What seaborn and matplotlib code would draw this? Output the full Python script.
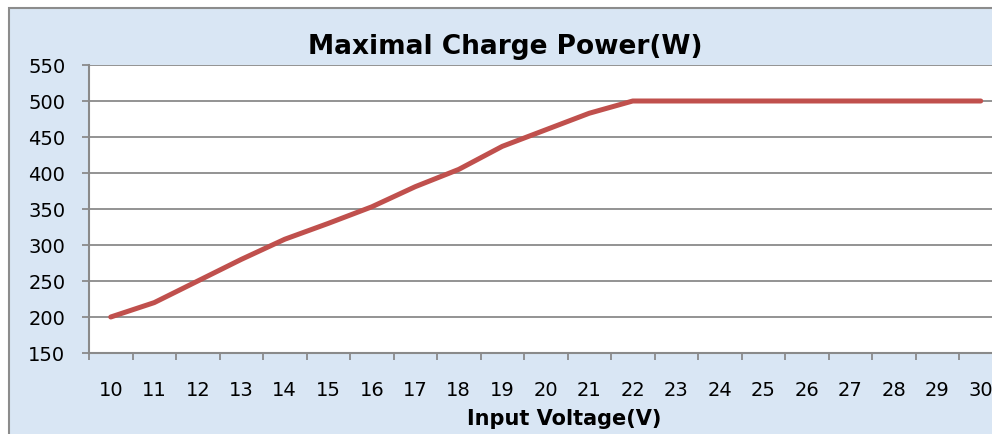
import matplotlib
matplotlib.use("Agg")
import matplotlib.pyplot as plt
import seaborn as sns
import pandas as pd
from matplotlib.patches import Rectangle
from matplotlib.ticker import FixedLocator

voltage = [10, 11, 12, 13, 14, 15, 16, 17, 18, 19, 20, 21, 22, 23, 24, 25, 26, 27, 28, 29, 30]
power = [200, 220, 250, 280, 308, 330, 353, 381, 405, 437, 460, 483, 500, 500, 500, 500, 500, 500, 500, 500, 500]
y_ticks = [150, 200, 250, 300, 350, 400, 450, 500, 550]

df = pd.DataFrame({"Input Voltage(V)": voltage, "Power": power})

sns.set_theme(style="white")
plt.rcParams["font.family"] = ["DejaVu Sans"]
plt.rcParams["text.color"] = "black"
plt.rcParams["xtick.labelcolor"] = "black"
plt.rcParams["ytick.labelcolor"] = "black"
plt.rcParams["axes.labelcolor"] = "black"

W, H = 992, 435
fig = plt.figure(figsize=(W / 100, H / 100), dpi=100, facecolor="white")

# outer chart area (light blue, gray border)
bg = Rectangle((9 / W, -0.05), 1.2, (H - 9) / H + 0.05, transform=fig.transFigure,
               facecolor="#d9e6f4", edgecolor="#8c8c8c", linewidth=1.5, zorder=-10)
fig.patches.append(bg)

left, right, top, bottom = 89, 1002.5, 66, 354
ax = fig.add_axes([left / W, (H - bottom) / H, (right - left) / W, (bottom - top) / H])
ax.set_facecolor("white")

sns.lineplot(data=df, x="Input Voltage(V)", y="Power", ax=ax, color="#c0504d", linewidth=3.6,
             solid_capstyle="round", zorder=5)

ax.set_xlim(9.5, 30.5)
ax.set_ylim(150, 550)
ax.set_yticks(y_ticks)
ax.set_xticks(voltage)
ax.set_xticklabels([str(v) for v in voltage])
ax.xaxis.set_minor_locator(FixedLocator([v - 0.5 for v in voltage] + [voltage[-1] + 0.5]))

ax.grid(axis="y", color="#8a8a8a", linewidth=1.3)
ax.set_axisbelow(True)
for s in ["top", "right"]:
    ax.spines[s].set_visible(False)
for s in ["left", "bottom"]:
    ax.spines[s].set_color("#8a8a8a")
    ax.spines[s].set_linewidth(1.5)

ax.tick_params(axis="y", which="major", direction="out", length=5, width=1.3, color="#8a8a8a",
               labelsize=14, pad=12, left=True)
ax.tick_params(axis="x", which="major", length=0, labelsize=14, pad=19.5)
ax.tick_params(axis="x", which="minor", direction="out", length=5, width=1.3, color="#8a8a8a", bottom=True)

ax.set_xlabel("Input Voltage(V)", fontsize=15, fontweight="bold")
ax.set_ylabel("")
ax.xaxis.set_label_coords((564 - left) / (right - left), -(409 - bottom) / (bottom - top))

fig.text(505 / W, 1 - 47 / H, "Maximal Charge Power(W)", fontsize=19, fontweight="bold",
         ha="center", va="center")

fig.savefig("out.png", dpi=100, facecolor="white")
